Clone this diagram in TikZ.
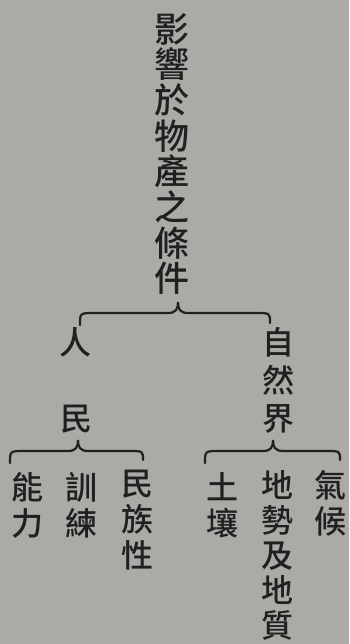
\documentclass[tikz,border=0pt]{standalone}
\usepackage{fontspec}
\usetikzlibrary{calc}
\newfontfamily\cjk{Noto Sans CJK TC}[BoldFont={* Medium}]
\definecolor{bg}{RGB}{170,170,166}
\definecolor{ink}{RGB}{32,32,32}
\newcommand\mybrace[3]{%
  \draw[brc] let \p1=(#1), \p2=(#2), \p3=(#3) in
    (\x1,\y1) .. controls (\x1,{\y2-11pt}) .. ({\x1+14pt},{\y2-11pt})
    -- ({\x2-10pt},{\y2-11pt})
    .. controls ({\x2-2pt},{\y2-11pt}) and (\x2,{\y2-7pt}) .. (\x2,\y2)
    .. controls (\x2,{\y2-7pt}) and ({\x2+2pt},{\y2-11pt}) .. ({\x2+10pt},{\y2-11pt})
    -- ({\x3-14pt},{\y2-11pt})
    .. controls (\x3,{\y2-11pt}) .. (\x3,\y3);}
\begin{document}
\begin{tikzpicture}[x=1pt,y=-1pt,
  vtext/.style={anchor=north, inner sep=0pt, align=center, text=ink,
                font=\cjk\bfseries\fontsize{32}{36}\selectfont},
  title/.style={vtext, font=\cjk\bfseries\fontsize{35}{35.7}\selectfont},
  brc/.style={draw=ink, line width=2.2pt, line cap=round}]
\fill[bg] (0,0) rectangle (349,644);
\useasboundingbox (0,0) rectangle (349,644);

\node[title] (root) at (172,13) {影\\響\\於\\物\\產\\之\\條\\件};

\node[vtext] (ren) at (75,327) {人};
\node[vtext] (min) at (76,405) {民};
\node[vtext, font=\cjk\bfseries\fontsize{32}{38}\selectfont] (ziran) at (278,327) {自\\然\\界};

\node[vtext] (nengli) at (27,472) {能\\力};
\node[vtext] (xunlian) at (81,472) {訓\\練};
\node[vtext] (minzu) at (137,470) {民\\族\\性};
\node[vtext] (turang) at (222,472) {土\\壤};
\node[vtext, font=\cjk\bfseries\fontsize{32}{35}\selectfont] (dishi) at (277,470) {地\\勢\\及\\地\\質};
\node[vtext] (qihou) at (330,470) {氣\\候};

\coordinate (b1l) at (80,325);
\coordinate (b1t) at (178,302);
\coordinate (b1r) at (270,323);
\coordinate (b2l) at (10,463);
\coordinate (b2t) at (78,440);
\coordinate (b2r) at (143,460);
\coordinate (b3l) at (205,463);
\coordinate (b3t) at (273,440);
\coordinate (b3r) at (340,460);

\mybrace{b1l}{b1t}{b1r}
\mybrace{b2l}{b2t}{b2r}
\mybrace{b3l}{b3t}{b3r}
\end{tikzpicture}
\end{document}
